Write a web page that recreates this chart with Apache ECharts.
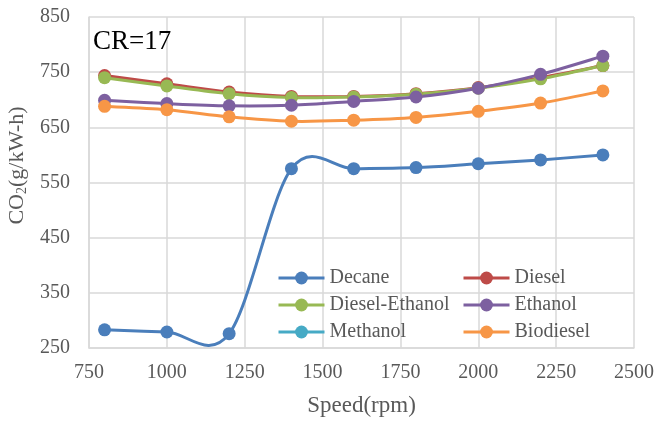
<!DOCTYPE html>
<html>
<head>
<meta charset="utf-8">
<script src="https://cdn.jsdelivr.net/npm/echarts@6/dist/echarts.min.js"></script>
<style>
  html, body { margin: 0; padding: 0; background: #fff; }
  #chart { width: 669px; height: 421px; }
</style>
</head>
<body>
<div id="chart"></div>
<script>
// engine speed, rpm
const speeds = [800, 1000, 1200, 1400, 1600, 1800, 2000, 2200, 2400];

// CO2 emission, g/kW-h
const decane = [283, 279, 276, 575, 575, 577, 584, 591, 600];
const diesel = [744, 729, 714, 706, 706, 711, 722, 740, 762];
const dieselEthanol = [740, 725, 711, 704, 705, 710, 721, 738, 762];
const ethanol = [699, 693, 689, 690, 697, 705, 721, 746, 779];
const methanol = [];
const biodiesel = [688, 682, 669, 661, 663, 668, 679, 694, 716];

const font = '"Liberation Serif", "Times New Roman", serif';
const textColor = '#595959';
const gridColor = '#d9d9d9';

const zip = (vals) => vals.map((v, i) => [speeds[i], v]);

// excel style smoothed line: catmull-rom turned into bezier segments
function smoothPath(pts) {
    let d = 'M' + pts[0][0] + ',' + pts[0][1];
    for (let i = 0; i < pts.length - 1; i++) {
        const p0 = pts[i - 1] || pts[i];
        const p1 = pts[i];
        const p2 = pts[i + 1];
        const p3 = pts[i + 2] || pts[i + 1];
        const c1x = p1[0] + (p2[0] - p0[0]) / 6;
        const c1y = p1[1] + (p2[1] - p0[1]) / 6;
        const c2x = p2[0] - (p3[0] - p1[0]) / 6;
        const c2y = p2[1] - (p3[1] - p1[1]) / 6;
        d += ' C' + c1x + ',' + c1y + ' ' + c2x + ',' + c2y + ' ' + p2[0] + ',' + p2[1];
    }
    return d;
}

const mkSeries = (name, vals, color) => [
    {
        name: name + ' curve',
        type: 'custom',
        silent: true,
        data: zip(vals),
        encode: { x: 0, y: 1 },
        renderItem: (params, api) => {
            if (params.dataIndex !== 0) {
                return null;
            }
            const pts = vals.map((v, i) => api.coord([speeds[i], v]));
            return {
                type: 'path',
                shape: { pathData: smoothPath(pts) },
                style: { fill: 'none', stroke: color, lineWidth: 3 }
            };
        }
    },
    {
        name: name,
        type: 'line',
        data: zip(vals),
        symbol: 'circle',
        symbolSize: 13,
        lineStyle: { width: 3, color: color, opacity: 0 },
        itemStyle: { color: color },
        emphasis: { disabled: true }
    }
];

const legendStyle = {
    orient: 'vertical',
    top: 268,
    padding: 0,
    itemWidth: 46,
    itemHeight: 16,
    itemGap: 7,
    lineStyle: { opacity: 1, width: 3 },
    textStyle: { fontFamily: font, fontSize: 20, color: textColor }
};

window.addEventListener('DOMContentLoaded', () => {
    const myChart = echarts.init(document.getElementById('chart'));

    myChart.setOption({
        animation: false,
        title: {
            text: 'CR=17',
            left: 88,
            top: 23,
            textStyle: { fontFamily: font, fontSize: 27, fontWeight: 'normal', color: '#000' }
        },
        grid: { left: 89, right: 35, top: 17, bottom: 73, outerBoundsMode: 'none' },
        legend: [
            Object.assign({ left: 277, data: ['Decane', 'Diesel-Ethanol', 'Methanol'] }, legendStyle),
            Object.assign({ left: 462, data: ['Diesel', 'Ethanol', 'Biodiesel'] }, legendStyle)
        ],
        xAxis: {
            type: 'value',
            min: 750,
            max: 2500,
            interval: 250,
            name: 'Speed(rpm)',
            nameLocation: 'middle',
            nameGap: 46,
            nameTextStyle: { fontFamily: font, fontSize: 23, color: textColor },
            axisLine: { lineStyle: { color: gridColor, width: 1.5 } },
            axisTick: { show: false },
            axisLabel: {
                fontFamily: font, fontSize: 20, color: textColor, margin: 15,
                formatter: (v) => String(v)
            },
            splitLine: { show: true, lineStyle: { color: gridColor, width: 1.5 } }
        },
        yAxis: {
            type: 'value',
            min: 250,
            max: 850,
            interval: 100,
            name: '{a|CO}{b|2}{a|(g/kW-h)}',
            nameLocation: 'middle',
            nameGap: 45,
            nameTextStyle: {
                padding: [0, 0, 0, 34],
                rich: {
                    a: { fontFamily: font, fontSize: 22, color: textColor },
                    b: { fontFamily: font, fontSize: 14, color: textColor, padding: [9, 0, 0, 0] }
                }
            },
            axisLine: { show: true, lineStyle: { color: gridColor, width: 1.5 } },
            axisTick: { show: false },
            axisLabel: { fontFamily: font, fontSize: 20, color: textColor, margin: 19 },
            splitLine: { show: true, lineStyle: { color: gridColor, width: 1.5 } }
        },
        series: [].concat(
            mkSeries('Decane', decane, '#4a7ebb'),
            mkSeries('Diesel', diesel, '#be4b48'),
            mkSeries('Diesel-Ethanol', dieselEthanol, '#98b954'),
            mkSeries('Ethanol', ethanol, '#7d60a0'),
            mkSeries('Methanol', methanol, '#46aac5'),
            mkSeries('Biodiesel', biodiesel, '#f79646')
        )
    });
});
</script>
</body>
</html>
